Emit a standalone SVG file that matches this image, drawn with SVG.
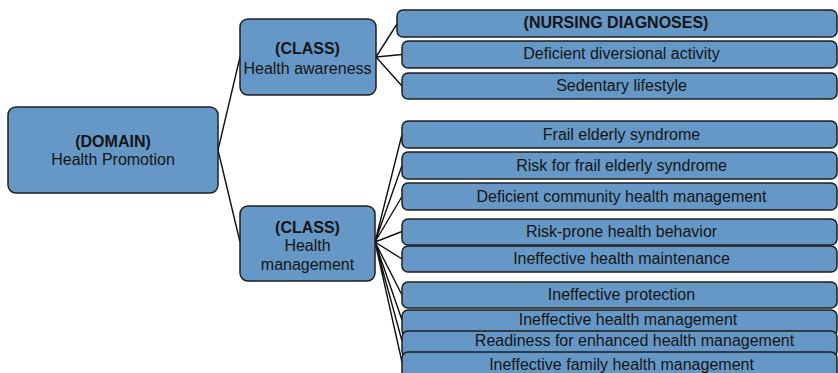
<svg xmlns="http://www.w3.org/2000/svg" width="838" height="373" viewBox="0 0 838 373">
<style>
.box{fill:#6598c7;stroke:#1e1e1e;stroke-width:1.5}
.t{font-family:"Liberation Sans",Arial,sans-serif;font-size:16px;fill:#151515;text-anchor:middle}
.b{font-weight:bold}
.c{fill:none;stroke:#111;stroke-width:1.4}
</style>
<rect width="838" height="373" fill="#fff"/>
<g id="connectors">
<path class="c" d="M218 150L240 57M218 150L240 242"/>
<path class="c" d="M376 57L397 24M376 57L402 54.5M376 57L402 86"/>
<path class="c" d="M375 242L402 134.5M375 242L402 165.5M375 242L402 196.5M375 242L402 231.5M375 242L402 259M375 242L402 295M375 242L402 320M375 242L402 341M375 242L402 362"/>
</g>
<g id="domain"><rect class="box" x="8" y="107" width="210" height="86" rx="8"/><text class="t b" x="113" y="147">(DOMAIN)</text><text class="t" x="113" y="165">Health Promotion</text></g>
<g id="class-awareness"><rect class="box" x="240" y="19" width="136" height="76" rx="8"/><text class="t b" x="307.5" y="54">(CLASS)</text><text class="t" x="307.5" y="74">Health awareness</text></g>
<g id="class-management"><rect class="box" x="240" y="206" width="135" height="75" rx="8"/><text class="t b" x="307.5" y="232.5">(CLASS)</text><text class="t" x="307.5" y="251">Health</text><text class="t" x="307.5" y="270">management</text></g>
<g id="nursing-diagnoses"><rect class="box" x="397" y="10" width="440" height="27" rx="6"/><text class="t b" x="616" y="28">(NURSING DIAGNOSES)</text></g>
<g id="d1"><rect class="box" x="402" y="41" width="435" height="27" rx="6"/><text class="t" x="621.5" y="59">Deficient diversional activity</text></g>
<g id="d2"><rect class="box" x="402" y="73" width="435" height="26" rx="6"/><text class="t" x="621.5" y="91">Sedentary lifestyle</text></g>
<g id="d3"><rect class="box" x="402" y="121" width="435" height="27" rx="6"/><text class="t" x="621.5" y="140">Frail elderly syndrome</text></g>
<g id="d4"><rect class="box" x="402" y="152" width="435" height="27" rx="6"/><text class="t" x="621.5" y="171">Risk for frail elderly syndrome</text></g>
<g id="d5"><rect class="box" x="402" y="183" width="435" height="27" rx="6"/><text class="t" x="621.5" y="202">Deficient community health management</text></g>
<g id="d6"><rect class="box" x="402" y="219" width="435" height="26" rx="6"/><text class="t" x="621.5" y="237">Risk-prone health behavior</text></g>
<g id="d7"><rect class="box" x="402" y="246" width="435" height="26" rx="6"/><text class="t" x="621.5" y="263.5">Ineffective health maintenance</text></g>
<g id="d8"><rect class="box" x="402" y="282" width="435" height="26" rx="6"/><text class="t" x="621.5" y="300">Ineffective protection</text></g>
<g id="d9"><rect class="box" x="402" y="310" width="435" height="26" rx="6"/><text class="t" x="628" y="325">Ineffective health management</text></g>
<g id="d10"><rect class="box" x="402" y="331" width="435" height="26" rx="6"/><text class="t" x="634.5" y="345.5">Readiness for enhanced health management</text></g>
<g id="d11"><rect class="box" x="402" y="352" width="435" height="28" rx="6"/><text class="t" x="621.5" y="370">Ineffective family health management</text></g>
</svg>
